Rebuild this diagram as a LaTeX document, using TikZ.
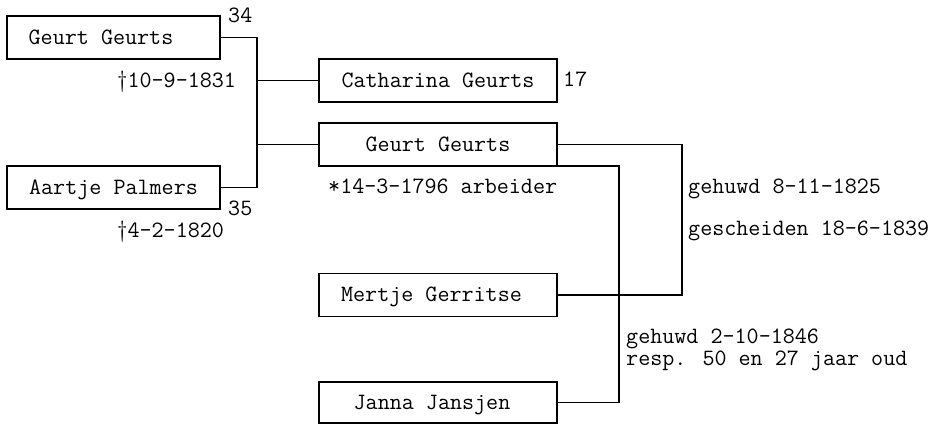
\documentclass[tikz,border=0pt]{standalone}
\begin{document}
\begin{tikzpicture}[x=1pt,y=-1pt,
  every node/.style={font=\fontsize{23.4pt}{25pt}\ttfamily},
  person/.style={draw, line width=1.6pt, inner sep=0pt, outer sep=0pt,
    minimum height=43pt, text height=13pt, text depth=0pt},
  info/.style={anchor=base west, inner sep=0pt},
  link/.style={line width=1.6pt}]
\useasboundingbox (0,0) rectangle (940,424);
% persons
\node[person, minimum width=213pt] (g1) at (113.5,37.5) {Geurt Geurts\hspace*{25pt}};
\node[person, minimum width=213pt] (a1) at (113.5,187.5) {Aartje Palmers};
\node[person, minimum width=238pt] (cath) at (438,80.5) {Catharina Geurts};
\node[person, minimum width=238pt] (g2) at (438,144.5) {Geurt Geurts};
\node[person, minimum width=238pt] (mert) at (438,295) {Mertje Gerritse\hspace*{13pt}};
\node[person, minimum width=238pt, minimum height=41pt] (jan) at (438,402.5) {Janna Jansjen\hspace*{12pt}};
% info texts
\node[info] (n34) at (228,22) {34};
\node[info] (n35) at (228,215) {35};
\node[info] (d1) at (117,87) {\fontsize{23.4pt}{25pt}\selectfont\rmfamily\raisebox{0pt}{\dag}\ttfamily 10-9-1831};
\node[info] (d2) at (117,237) {\rmfamily\dag\ttfamily 4-2-1820};
\node[info] (n17) at (563,86) {17};
\node[info] (b2) at (328,193) {*14-3-1796 arbeider};
\node[info] (m1) at (688,193) {gehuwd 8-11-1825};
\node[info] (s1) at (688,235) {gescheiden 18-6-1839};
\node[info] (m2) at (626,343) {gehuwd 2-10-1846};
\node[info] (m2b) at (626,365) {resp. 50 en 27 jaar oud};
% connectors
\coordinate (v1) at (257,0);
\coordinate (v2) at (682,0);
\coordinate (v3) at (619,0);
\draw[link] (g1.east) -| (v1 |- a1.east) -- (a1.east);
\draw[link] (cath.west) -- (cath.west -| v1);
\draw[link] (g2.west) -- (g2.west -| v1);
\draw[link] (g2.east) -| (v2 |- mert.east) -- (mert.east);
\draw[link] (g2.south east) -| (v3 |- jan.east) -- (jan.east);
\end{tikzpicture}
\end{document}
